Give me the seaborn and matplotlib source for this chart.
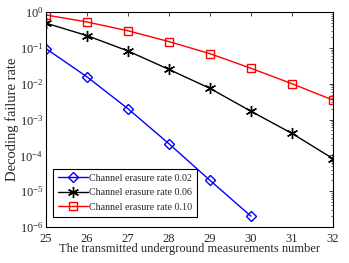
import numpy as np
import pandas as pd
import seaborn as sns
import matplotlib
matplotlib.use("Agg")
import matplotlib.pyplot as plt
from matplotlib.ticker import LogLocator, NullFormatter

# Values
x_002 = [25, 26, 27, 28, 29, 30]
fail_002 = [0.095, 0.0155, 0.0020, 2.1e-4, 2.0e-5, 2.0e-6]

x_006 = [25, 26, 27, 28, 29, 30, 31, 32]
fail_006 = [0.49, 0.22, 0.082, 0.025, 0.0074, 0.0017, 4.1e-4, 8.1e-5]

x_010 = [25, 26, 27, 28, 29, 30, 31, 32]
fail_010 = [0.83, 0.53, 0.30, 0.15, 0.069, 0.027, 0.010, 0.0035]

labels = ["Channel erasure rate 0.02", "Channel erasure rate 0.06", "Channel erasure rate 0.10"]
xticks = [25, 26, 27, 28, 29, 30, 31, 32]

sns.set_style("white")
plt.rcParams["font.family"] = ["Liberation Serif", "DejaVu Serif"]
plt.rcParams["mathtext.fontset"] = "custom"
plt.rcParams["mathtext.rm"] = "Liberation Serif"
plt.rcParams["mathtext.it"] = "Liberation Serif"

fig = plt.figure(figsize=(3.49, 2.63), dpi=100)
ax = fig.add_axes([0.132, 0.137, 0.822, 0.817])

series = [
    (x_002, fail_002, "#0000ff", "D", 5.5),
    (x_006, fail_006, "#000000", (6, 2, 0), 8),
    (x_010, fail_010, "#ff0000", "s", 5.5),
]
for (xs, ys, col, mk, ms), lab in zip(series, labels):
    df = pd.DataFrame({"x": xs, "y": ys})
    sns.lineplot(data=df, x="x", y="y", ax=ax, color=col, marker=mk,
                 markersize=ms, markerfacecolor="none", markeredgecolor=col,
                 markeredgewidth=1.0, linewidth=1.0, label=lab)

ax.set_yscale("log")
ax.set_xlim(25, 32)
ax.set_ylim(1e-6, 1)
ax.set_xticks(xticks)
ax.yaxis.set_major_locator(LogLocator(base=10, numticks=10))
ax.yaxis.set_minor_locator(LogLocator(base=10, subs=np.arange(2, 10), numticks=10))
ax.yaxis.set_minor_formatter(NullFormatter())
ax.tick_params(axis="both", which="both", direction="in", top=True, right=True,
               labelsize=9)
ax.tick_params(axis="x", pad=4)
ax.tick_params(axis="y", pad=2)
ax.tick_params(which="major", length=3, width=0.6)
ax.tick_params(which="minor", length=1.5, width=0.5)
for s in ax.spines.values():
    s.set_linewidth(0.8)
    s.set_color("black")

ax.set_xlabel("The transmitted underground measurements number", fontsize=9, labelpad=-1)
ax.set_ylabel("Decoding failure rate", fontsize=10.5, labelpad=0)

leg = ax.legend(loc="lower left", fontsize=7.2, frameon=True, fancybox=False,
                edgecolor="black", framealpha=1, borderpad=0.5,
                handlelength=3.0, handletextpad=0.1, labelspacing=0.55,
                borderaxespad=0, bbox_to_anchor=(0.024, 0.047))
leg.get_frame().set_linewidth(0.8)

fig.savefig("out.png", dpi=100, facecolor="white")
